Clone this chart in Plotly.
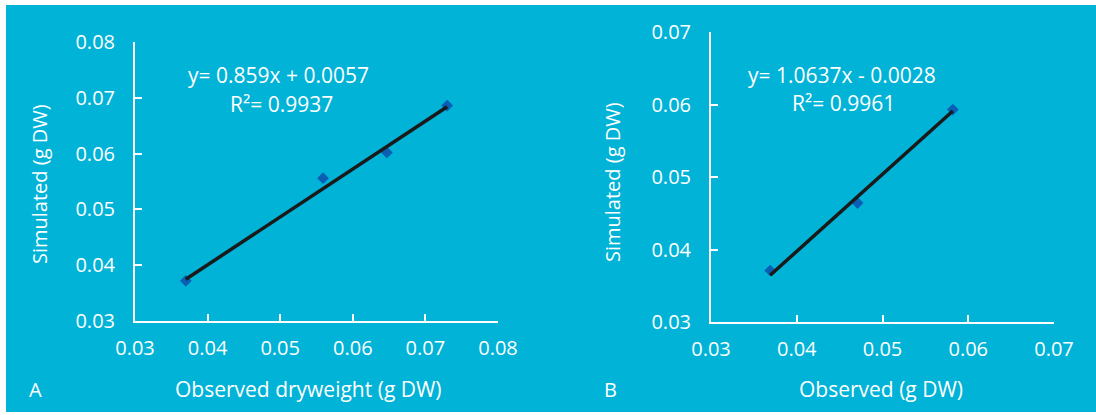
import plotly.graph_objects as go

W, H = 1096, 415

# Panel A data
obs_a = [0.0370, 0.0559, 0.0647, 0.0730]
sim_a = [0.0372, 0.0556, 0.0602, 0.0686]
slope_a, icpt_a = 0.859, 0.0057
eq_a = "y= 0.859x + 0.0057"
r2_a = "R²= 0.9937"

# Panel B data
obs_b = [0.0369, 0.0471, 0.0582]
sim_b = [0.0371, 0.0464, 0.0593]
slope_b, icpt_b = 1.0637, -0.0028
eq_b = "y= 1.0637x - 0.0028"
r2_b = "R²= 0.9961"

ticks_a = [0.03, 0.04, 0.05, 0.06, 0.07, 0.08]
ticks_b = [0.03, 0.04, 0.05, 0.06, 0.07]

BG = "#00B3D7"
FONT = "Open Sans"
WHITE = "white"

fig = go.Figure()

def add_panel(obs, sim, slope, icpt, xa, ya):
    xs = [min(obs), max(obs)]
    ys = [slope * v + icpt for v in xs]
    fig.add_trace(go.Scatter(x=obs, y=sim, mode="markers", xaxis=xa, yaxis=ya,
                             marker=dict(symbol="diamond", size=9, color="#0A5FB4"),
                             showlegend=False))
    fig.add_trace(go.Scatter(x=xs, y=ys, mode="lines", xaxis=xa, yaxis=ya,
                             line=dict(color="#1A1A1A", width=3.5), showlegend=False))

add_panel(obs_a, sim_a, slope_a, icpt_a, "x", "y")
add_panel(obs_b, sim_b, slope_b, icpt_b, "x2", "y2")

def px_x(v):
    return v / W

def px_y(v):
    return 1 - v / H

axis_common = dict(showgrid=False, zeroline=False, showline=True, linecolor=WHITE, linewidth=2,
                   ticks="inside", ticklen=7, tickwidth=2, tickcolor=WHITE, automargin=False,
                   tickfont=dict(family=FONT, size=20, color=WHITE))

fig.update_layout(
    width=W, height=H, margin=dict(l=0, r=0, t=0, b=0),
    paper_bgcolor="white", plot_bgcolor="rgba(0,0,0,0)",
    xaxis=dict(domain=[px_x(135), px_x(498)], range=[0.03, 0.08], tickvals=ticks_a,
               ticktext=[f"{t:.2f}" for t in ticks_a], anchor="y", ticklabelstandoff=8, **axis_common),
    yaxis=dict(domain=[px_y(321), px_y(42)], range=[0.03, 0.08], tickvals=ticks_a,
               ticktext=[f"{t:.2f}" for t in ticks_a], anchor="x", ticklabelstandoff=14, **axis_common),
    xaxis2=dict(domain=[px_x(711), px_x(1054)], range=[0.03, 0.07], tickvals=ticks_b,
                ticktext=[f"{t:.2f}" for t in ticks_b], anchor="y2", ticklabelstandoff=8, **axis_common),
    yaxis2=dict(domain=[px_y(322), px_y(32)], range=[0.03, 0.07], tickvals=ticks_b,
                ticktext=[f"{t:.2f}" for t in ticks_b], anchor="x2", ticklabelstandoff=14, **axis_common),
    shapes=[dict(type="rect", xref="paper", yref="paper", x0=px_x(6), x1=1.0,
                 y0=px_y(412), y1=px_y(5), fillcolor=BG, line=dict(width=0), layer="below")],
)

def ann(text, x, y, size=21, angle=0, xanchor="center"):
    fig.add_annotation(text=text, x=px_x(x), y=px_y(y), xref="paper", yref="paper",
                       showarrow=False, textangle=angle, xanchor=xanchor, yanchor="middle",
                       font=dict(family=FONT, size=size, color=WHITE))

ann(eq_a, 278, 75)
ann(r2_a, 281, 104)
ann(eq_b, 842, 75)
ann(r2_b, 843, 103)
ann("Simulated (g DW)", 40, 184, size=20, angle=-90)
ann("Simulated (g DW)", 612, 182, size=20, angle=-90)
ann("Observed dryweight (g DW)", 308, 389)
ann("Observed (g DW)", 881, 389)
ann("A", 35, 389, size=20)
ann("B", 610, 389, size=20)

fig.write_html("out.html", config={"displayModeBar": False},
               post_script="document.body.style.margin='0';document.body.style.overflow='hidden';")
